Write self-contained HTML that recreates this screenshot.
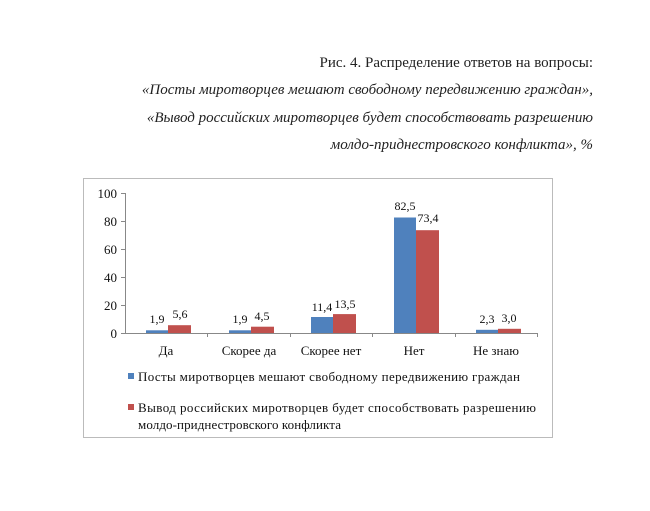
<!DOCTYPE html>
<html><head><meta charset="utf-8"><style>
body{margin:0;background:#fff;width:650px;height:511px;overflow:hidden;font-family:"Liberation Serif",serif;}
.t{position:absolute;right:57px;font-size:15px;color:#222;white-space:nowrap;}
.i{font-style:italic;}
</style></head><body>
<div class="t" style="top:55px">Рис. 4. Распределение ответов на вопросы:</div>
<div class="t i" style="top:82px">«Посты миротворцев мешают свободному передвижению граждан»,</div>
<div class="t i" style="top:110px">«Вывод российских миротворцев будет способствовать разрешению</div>
<div class="t i" style="top:137px">молдо-приднестровского конфликта», %</div>
<svg width="650" height="511" style="position:absolute;left:0;top:0" font-family="Liberation Serif, serif" font-size="13" fill="#111">
<rect x="83.5" y="178.5" width="469" height="259" fill="none" stroke="#bbb"/>
<line x1="125.5" y1="193" x2="125.5" y2="333" stroke="#888"/>
<line x1="121" y1="333.5" x2="537" y2="333.5" stroke="#888"/>
<g stroke="#888">
<line x1="121" y1="193.5" x2="125" y2="193.5"/><line x1="121" y1="221.5" x2="125" y2="221.5"/><line x1="121" y1="249.5" x2="125" y2="249.5"/><line x1="121" y1="277.5" x2="125" y2="277.5"/><line x1="121" y1="305.5" x2="125" y2="305.5"/>
<line x1="207.5" y1="333" x2="207.5" y2="337"/><line x1="290.5" y1="333" x2="290.5" y2="337"/><line x1="372.5" y1="333" x2="372.5" y2="337"/><line x1="455.5" y1="333" x2="455.5" y2="337"/><line x1="537.5" y1="333" x2="537.5" y2="337"/>
</g>
<g text-anchor="end"><text x="117" y="198">100</text><text x="117" y="226">80</text><text x="117" y="254">60</text><text x="117" y="282">40</text><text x="117" y="310">20</text><text x="117" y="338">0</text></g>
<g fill="#4f81bd">
<rect x="146" y="330.3" width="22" height="2.7"/><rect x="229" y="330.3" width="22" height="2.7"/><rect x="311" y="317" width="22" height="16"/><rect x="394" y="217.5" width="22" height="115.5"/><rect x="476" y="329.8" width="22" height="3.2"/>
</g>
<g fill="#c0504d">
<rect x="168" y="325.2" width="23" height="7.8"/><rect x="251" y="326.7" width="23" height="6.3"/><rect x="333" y="314.1" width="23" height="18.9"/><rect x="416" y="230.2" width="23" height="102.8"/><rect x="498" y="328.8" width="23" height="4.2"/>
</g>
<g text-anchor="middle" font-size="12">
<text x="157" y="323">1,9</text><text x="180" y="318">5,6</text>
<text x="240" y="323">1,9</text><text x="262" y="320">4,5</text>
<text x="322" y="311">11,4</text><text x="345" y="308">13,5</text>
<text x="405" y="210">82,5</text><text x="428" y="222">73,4</text>
<text x="487" y="323">2,3</text><text x="509" y="322">3,0</text>
</g>
<g text-anchor="middle"><text x="166" y="355">Да</text><text x="249" y="355">Скорее да</text><text x="331" y="355">Скорее нет</text><text x="414" y="355">Нет</text><text x="496" y="355">Не знаю</text></g>
<rect x="128" y="373" width="6" height="6" fill="#4f81bd"/>
<rect x="128" y="404" width="6" height="6" fill="#c0504d"/>
<text x="138" y="381" font-size="13" textLength="382" lengthAdjust="spacing">Посты  миротворцев  мешают  свободному  передвижению  граждан</text>
<text x="138" y="412" font-size="13" textLength="398" lengthAdjust="spacing">Вывод  российских  миротворцев  будет  способствовать  разрешению</text>
<text x="138" y="429" font-size="13" textLength="203" lengthAdjust="spacing">молдо-приднестровского  конфликта</text>
</svg>
</body></html>
